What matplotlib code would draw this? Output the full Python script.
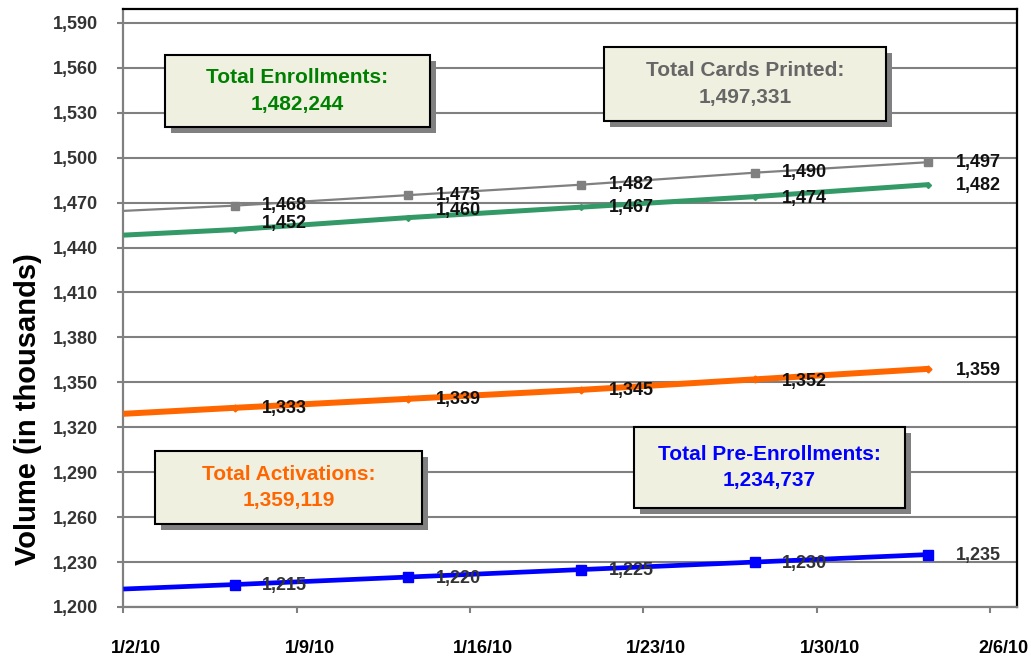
import matplotlib
matplotlib.use("Agg")
import matplotlib.pyplot as plt
import matplotlib.dates as mdates
import matplotlib.transforms as mtransforms
from matplotlib.patches import Rectangle
import pandas as pd

# data (values in thousands); first entry is where each line enters at the left edge
dates = ['2010-01-02 00:00', '2010-01-06 12:00', '2010-01-13 12:00', '2010-01-20 12:00',
         '2010-01-27 12:00', '2010-02-03 12:00']
cards_printed = [1464.5, 1468, 1475, 1482, 1490, 1497]
enrollments = [1448.3, 1452, 1460, 1467, 1474, 1482]
activations = [1329.0, 1333, 1339, 1345, 1352, 1359]
pre_enrollments = [1212.0, 1215, 1220, 1225, 1230, 1235]

tick_dates = ['2010-01-02', '2010-01-09', '2010-01-16', '2010-01-23', '2010-01-30', '2010-02-06']
tick_labels = ['1/2/10', '1/9/10', '1/16/10', '1/23/10', '1/30/10', '2/6/10']

box_titles = ['Total Enrollments:', 'Total Cards Printed:', 'Total Activations:', 'Total Pre-Enrollments:']
box_totals = [1482244, 1497331, 1359119, 1234737]

W, H = 1031, 657
x = mdates.date2num(pd.to_datetime(dates, format='%Y-%m-%d %H:%M'))
xt = mdates.date2num(pd.to_datetime(tick_dates, format='%Y-%m-%d'))

fig = plt.figure(figsize=(W / 100, H / 100), dpi=100)
ax = fig.add_axes([123.3 / W, 1 - 607 / H, 893.4 / W, 598 / H])

GRID = '#808080'
ax.set_ylim(1200, 1599.3)
ax.set_yticks(range(1200, 1591, 30))
ax.yaxis.grid(True, color=GRID, lw=1.5, zorder=0)
ax.set_axisbelow(True)
ax.set_xlim(xt[0], xt[0] + 36.08)
ax.set_xticks(xt)
ax.set_xticklabels(tick_labels)

for s in ['left', 'bottom']:
    ax.spines[s].set_color(GRID)
    ax.spines[s].set_linewidth(1.6)
for s in ['top', 'right']:
    ax.spines[s].set_color('black')
    ax.spines[s].set_linewidth(1.6)

ax.tick_params(axis='y', length=4, width=1.5, color=GRID, pad=14, labelsize=13,
               labelcolor='#333333')
ax.tick_params(axis='x', length=4.5, width=1.5, color=GRID, pad=19, labelsize=13,
               labelcolor='black')
ax.set_yticklabels([f'{v:,}' for v in range(1200, 1591, 30)], fontweight='bold',
                   family='Liberation Sans')
shift = mtransforms.ScaledTranslation(0.13, 0, fig.dpi_scale_trans)
for lab in ax.get_xticklabels():
    lab.set_fontweight('bold')
    lab.set_family('Liberation Sans')
    lab.set_transform(lab.get_transform() + shift)

series = [
    (cards_printed, '#808080', 1.6, 's', 5.5, '#111111', [0, 0, 0, 0, 0]),
    (enrollments, '#339966', 3.6, 'D', 3.0, '#111111', [-6, -7, 0, 2, 1]),
    (activations, '#FF6600', 4.3, 'D', 3.5, '#111111', [1, 1, 1, 2, 2]),
    (pre_enrollments, '#0000FF', 3.4, 's', 6.5, '#333333', [1, 1, 1, 1, 1]),
]
for vals, col, lw, mk, ms, lc, dy in series:
    ax.plot(x, vals, color=col, lw=lw, marker=mk, ms=ms, markevery=slice(1, None),
            mec=col, mfc=col, solid_capstyle='butt', zorder=3, clip_on=True)
    for xi, v, d in zip(x[1:], vals[1:], dy):
        ax.annotate(f'{v:,}', (xi, v), xytext=(19.7, -d * 0.72), textcoords='offset points',
                    ha='left', va='center', fontsize=13, fontweight='bold', color=lc,
                    family='Liberation Sans', zorder=4)

fig.text(28.5 / W, 1 - 409 / H, 'Volume (in thousands)', rotation=90, ha='center',
         va='center', fontsize=21, fontweight='bold', family='Liberation Sans')

# summary boxes (pixel extents: left, top, right, bottom)
boxes = [(165, 55, 430, 127), (604, 47, 886, 121), (155, 451, 422, 524), (634, 427, 905, 508)]
box_colors = ['#008000', '#666666', '#FF6600', '#0000FF']
for (x0, y0, x1, y1), title, total, col in zip(boxes, box_titles, box_totals, box_colors):
    fig.add_artist(Rectangle(((x0 + 6) / W, 1 - (y1 + 6) / H), (x1 - x0) / W, (y1 - y0) / H,
                             transform=fig.transFigure, facecolor='#808080', edgecolor='none',
                             zorder=5))
    fig.add_artist(Rectangle((x0 / W, 1 - y1 / H), (x1 - x0) / W, (y1 - y0) / H,
                             transform=fig.transFigure, facecolor='#F0F0E1', edgecolor='black',
                             lw=1.5, zorder=6))
    fig.text((x0 + x1) / 2 / W, 1 - (y0 + y1) / 2 / H, f'{title}\n{total:,}', ha='center',
             va='center', fontsize=15, fontweight='bold', color=col, linespacing=1.5,
             family='Liberation Sans', zorder=7)

fig.savefig('out.png', dpi=100)
